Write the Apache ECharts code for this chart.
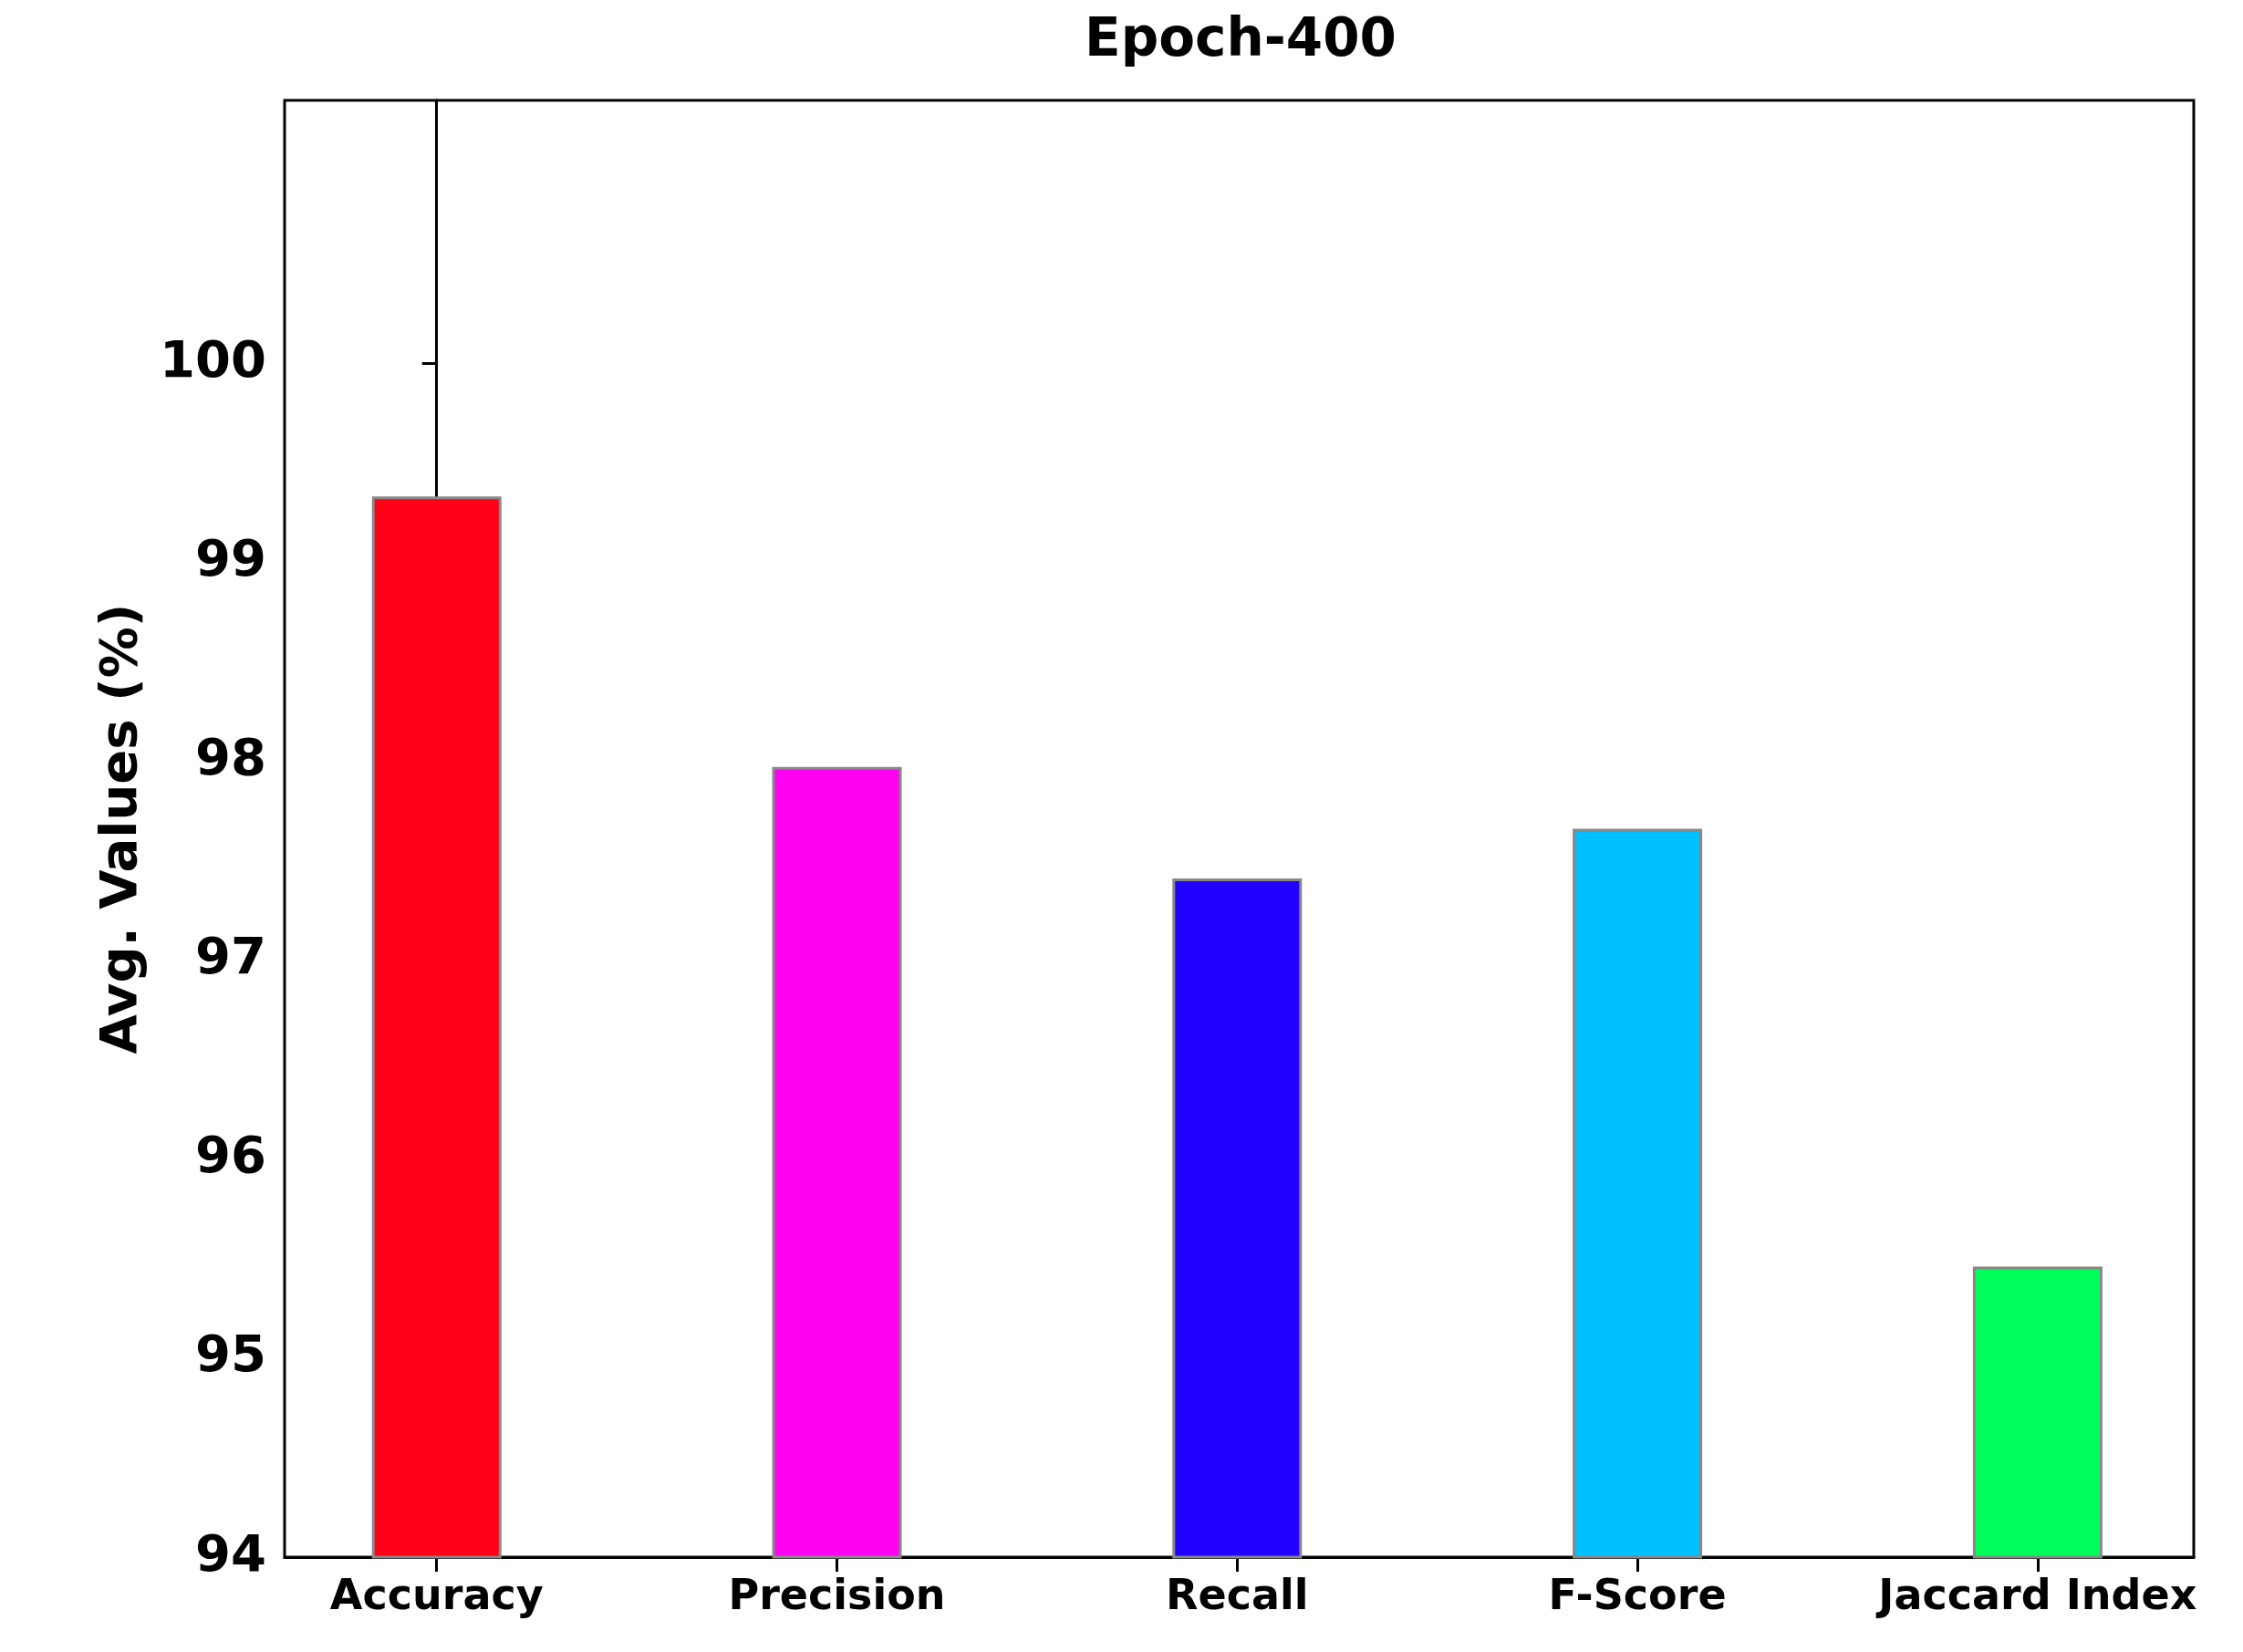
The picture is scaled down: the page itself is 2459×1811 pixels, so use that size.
<!DOCTYPE html><html><head><meta charset="utf-8">
<script src="https://cdn.jsdelivr.net/npm/echarts@6/dist/echarts.min.js"></script>
<style>html,body{margin:0;background:#fff}#c{width:2459px;height:1811px}</style></head><body><div id="c"></div>
<script>
const categories=['Accuracy','Precision','Recall','F-Score','Jaccard Index'];
const values=[99.33,97.97,97.41,97.66,95.46];
const colors=['#ff0019','#ff00f0','#2200ff','#00bfff','#00ff5a'];
const yTicks=[94,95,96,97,98,99,100];
const F='DejaVu Sans';
const chart=echarts.init(document.getElementById('c'));
chart.setOption({
 animation:false,
 title:{text:'Epoch-400',left:1355,top:12,textAlign:'center',textStyle:{fontFamily:F,fontWeight:'bold',fontSize:58,color:'#000'}},
 grid:{left:312,right:54,top:110,bottom:104,show:true,borderColor:'#000',borderWidth:3},
 xAxis:{type:'value',min:-0.38,max:4.39,splitLine:{show:false},
  axisLine:{lineStyle:{color:'#000',width:3}},
  axisTick:{show:true,length:16,lineStyle:{color:'#000',width:3},customValues:[0,1,2,3,4]},
  axisLabel:{customValues:[0,1,2,3,4],formatter:v=>categories[Math.round(v)],fontFamily:F,fontWeight:'bold',fontSize:46,color:'#000',margin:22}},
 yAxis:{type:'value',min:94,max:101.32,interval:1,splitLine:{show:false},
  name:'Avg. Values (%)',nameLocation:'middle',nameGap:150,nameTextStyle:{fontFamily:F,fontWeight:'bold',fontSize:56,color:'#000'},
  axisLine:{show:true,lineStyle:{color:'#000',width:3}},
  axisTick:{show:true,length:16,lineStyle:{color:'#000',width:3},customValues:yTicks},
  axisLabel:{customValues:yTicks,fontFamily:F,fontWeight:'bold',fontSize:56,color:'#000',margin:20}},
 series:[{type:'bar',barWidth:142,
  data:values.map((v,i)=>({value:[i,v],itemStyle:{color:colors[i],borderColor:'#888',borderWidth:3}}))}]
});
</script></body></html>
